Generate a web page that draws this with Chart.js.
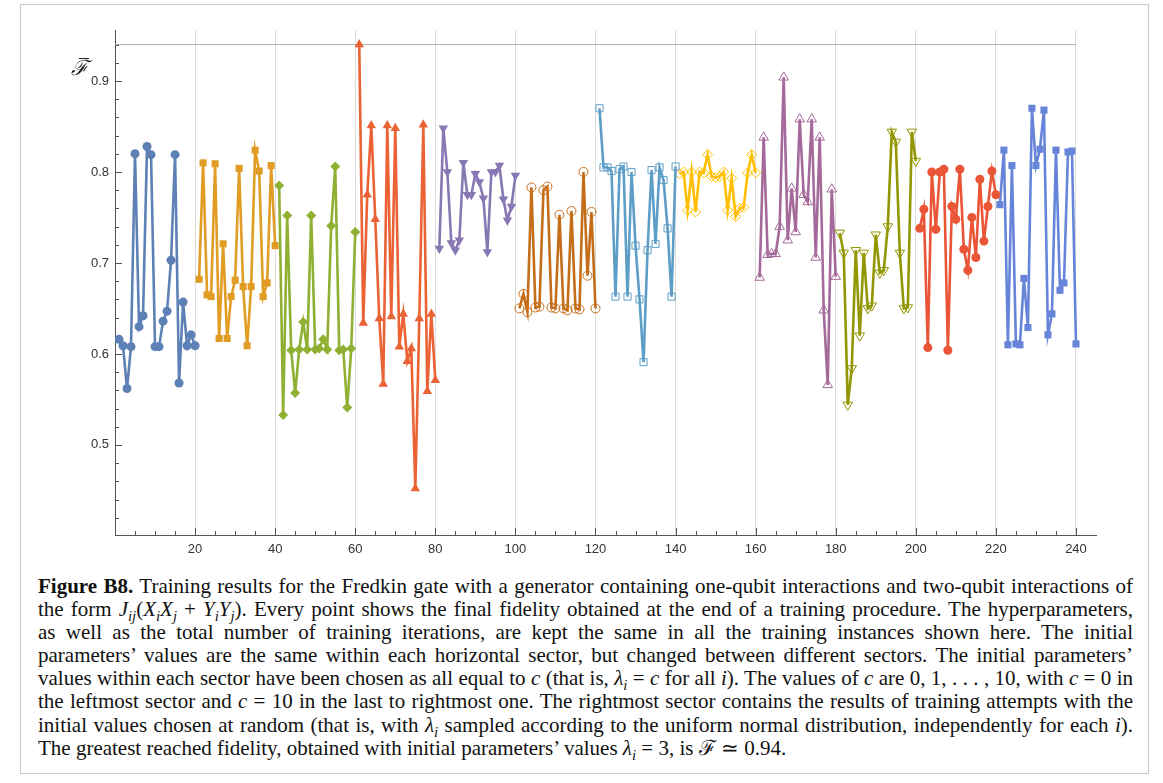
<!DOCTYPE html>
<html>
<head>
<meta charset="utf-8">
<script src="https://cdn.jsdelivr.net/npm/chart.js@4/dist/chart.umd.min.js"></script>
<style>
  html, body { margin: 0; padding: 0; background: #fff; }
  body { width: 1163px; height: 783px; position: relative; overflow: hidden; }
  .frame { position: absolute; left: 20px; top: 4px; width: 1129px; height: 770px; border: 1px solid #c8c8c8; box-sizing: border-box; }
  #chart-wrap { position: absolute; left: 0; top: 0; width: 1163px; height: 570px; }
  .flabel { position: absolute; left: 71px; top: 53px; font: italic 21px 'Liberation Serif', serif; color: #222; }
  .flabel::before { content: ''; position: absolute; left: 8px; top: 5px; width: 10px; border-top: 1.3px solid #222; }
  .caption { position: absolute; left: 38px; top: 575px; width: 1095px; font: 21px/23.1px 'Liberation Serif', serif; color: #111; }
  .caption div { text-align: justify; text-align-last: justify; }
  .caption div.last { text-align-last: left; }
  .caption sub { font-size: 70%; line-height: 0; }
</style>
</head>
<body>
<div class="frame"></div>
<div id="chart-wrap"><canvas id="chart" width="1163" height="570"></canvas></div>
<div class="flabel">ℱ</div>
<div class="caption">
  <div><b>Figure B8.</b> Training results for the Fredkin gate with a generator containing one-qubit interactions and two-qubit interactions of</div>
  <div>the form <i>J<sub>ij</sub></i>(<i>X<sub>i</sub>X<sub>j</sub></i> + <i>Y<sub>i</sub>Y<sub>j</sub></i>). Every point shows the final fidelity obtained at the end of a training procedure. The hyperparameters,</div>
  <div>as well as the total number of training iterations, are kept the same in all the training instances shown here. The initial</div>
  <div>parameters’ values are the same within each horizontal sector, but changed between different sectors. The initial parameters’</div>
  <div>values within each sector have been chosen as all equal to <i>c</i> (that is, <i>λ<sub>i</sub></i> = <i>c</i> for all <i>i</i>). The values of <i>c</i> are 0, 1, . . . , 10, with <i>c</i> = 0 in</div>
  <div>the leftmost sector and <i>c</i> = 10 in the last to rightmost one. The rightmost sector contains the results of training attempts with the</div>
  <div>initial values chosen at random (that is, with <i>λ<sub>i</sub></i> sampled according to the uniform normal distribution, independently for each <i>i</i>).</div>
  <div class="last">The greatest reached fidelity, obtained with initial parameters’ values <i>λ<sub>i</sub></i> = 3, is ℱ ≃ 0.94.</div>
</div>
<script>
// ── Data (one array per sector, 20 training runs each) ───────────────────────
const c0  = [0.616, 0.609, 0.562, 0.608, 0.820, 0.630, 0.642, 0.828, 0.819, 0.608, 0.608, 0.636, 0.647, 0.703, 0.819, 0.568, 0.657, 0.609, 0.621, 0.609];
const c1  = [0.682, 0.810, 0.665, 0.663, 0.809, 0.617, 0.721, 0.617, 0.663, 0.681, 0.804, 0.674, 0.609, 0.674, 0.824, 0.801, 0.663, 0.678, 0.807, 0.719];
const c2  = [0.785, 0.533, 0.752, 0.604, 0.557, 0.605, 0.635, 0.605, 0.752, 0.605, 0.606, 0.616, 0.605, 0.741, 0.806, 0.604, 0.605, 0.541, 0.606, 0.734];
const c3  = [0.940, 0.634, 0.775, 0.851, 0.748, 0.639, 0.567, 0.851, 0.641, 0.848, 0.608, 0.644, 0.592, 0.606, 0.452, 0.639, 0.852, 0.559, 0.644, 0.571];
const c4  = [0.716, 0.848, 0.800, 0.722, 0.714, 0.725, 0.810, 0.775, 0.775, 0.798, 0.789, 0.771, 0.712, 0.800, 0.800, 0.807, 0.770, 0.747, 0.762, 0.796];
const c5  = [0.650, 0.666, 0.646, 0.783, 0.651, 0.652, 0.780, 0.784, 0.651, 0.650, 0.753, 0.650, 0.648, 0.757, 0.650, 0.649, 0.800, 0.686, 0.756, 0.650];
const c6  = [0.870, 0.805, 0.805, 0.801, 0.663, 0.803, 0.806, 0.663, 0.800, 0.719, 0.660, 0.591, 0.714, 0.802, 0.721, 0.805, 0.791, 0.738, 0.663, 0.806];
const c7  = [0.798, 0.800, 0.758, 0.800, 0.756, 0.800, 0.799, 0.819, 0.795, 0.794, 0.795, 0.800, 0.758, 0.793, 0.751, 0.760, 0.761, 0.799, 0.819, 0.799];
const c8  = [0.684, 0.838, 0.709, 0.710, 0.710, 0.740, 0.904, 0.725, 0.782, 0.734, 0.858, 0.775, 0.767, 0.858, 0.706, 0.838, 0.648, 0.566, 0.781, 0.685];
const c9  = [0.733, 0.711, 0.544, 0.584, 0.714, 0.620, 0.711, 0.650, 0.653, 0.731, 0.689, 0.692, 0.740, 0.844, 0.833, 0.711, 0.650, 0.651, 0.844, 0.812];
const c10 = [0.738, 0.759, 0.607, 0.800, 0.737, 0.800, 0.803, 0.604, 0.762, 0.748, 0.803, 0.715, 0.692, 0.750, 0.706, 0.792, 0.724, 0.762, 0.801, 0.775];
const rnd = [0.764, 0.824, 0.610, 0.807, 0.611, 0.610, 0.683, 0.629, 0.870, 0.807, 0.825, 0.868, 0.621, 0.644, 0.824, 0.670, 0.678, 0.822, 0.823, 0.611];

const sectors = [c0, c1, c2, c3, c4, c5, c6, c7, c8, c9, c10, rnd];
const xTicks  = [20, 40, 60, 80, 100, 120, 140, 160, 180, 200, 220, 240];
const yTicks  = [0.5, 0.6, 0.7, 0.8, 0.9];

// ── Styles (Mathematica default palette) ─────────────────────────────────────
const markers = [
  { color: '#5E81B5', style: 'circle',   r: 4.5, open: false },
  { color: '#E19C24', style: 'rect',     r: 5,   open: false },
  { color: '#8FB032', style: 'rectRot',  r: 5,   open: false },
  { color: '#EB6235', style: 'triangle', r: 5.5, open: false },
  { color: '#8778B3', style: 'triangle', r: 5.5, open: false, rot: 180 },
  { color: '#C56E1A', style: 'circle',   r: 4.5, open: true },
  { color: '#5D9EC7', style: 'rect',     r: 5,   open: true },
  { color: '#FFBF00', style: 'rectRot',  r: 5,   open: true },
  { color: '#A5699A', style: 'triangle', r: 5.5, open: true },
  { color: '#929600', style: 'triangle', r: 5.5, open: true, rot: 180 },
  { color: '#E95536', style: 'circle',   r: 4.5, open: false },
  { color: '#6685D9', style: 'rect',     r: 5,   open: false },
];

const maxF = Math.max(...sectors.flat());

const datasets = sectors.map((vals, k) => {
  const m = markers[k];
  return {
    data: vals.map((v, i) => ({ x: k * 20 + i + 1, y: v })),
    showLine: true,
    borderColor: m.color,
    borderWidth: 2.6,
    pointStyle: m.style,
    pointRadius: m.r,
    pointRotation: m.rot || 0,
    pointBackgroundColor: m.open ? 'rgba(255,255,255,0)' : m.color,
    pointBorderColor: m.color,
    pointBorderWidth: m.open ? 1 : 0,
    order: 1,
  };
});

datasets.push({
  data: [{ x: 0, y: maxF }, { x: 240, y: maxF }],
  showLine: true,
  borderColor: '#b0b0b0',
  borderWidth: 1,
  pointRadius: 0,
  order: 2,
});

// ── Inward tick marks, Mathematica style ─────────────────────────────────────
const tickMarks = {
  id: 'tickMarks',
  beforeDatasetsDraw(chart) {
    const { ctx, scales: { x, y }, chartArea: a } = chart;
    ctx.save();
    ctx.strokeStyle = '#555';
    ctx.lineWidth = 1;
    ctx.beginPath();
    for (let v = 42; v <= 94; v += 2) {
      const py = Math.round(y.getPixelForValue(v / 100)) + 0.5;
      const len = v % 10 === 0 ? 7 : 4;
      ctx.moveTo(a.left, py);
      ctx.lineTo(a.left + len, py);
    }
    for (let v = 5; v <= 240; v += 5) {
      const px = Math.round(x.getPixelForValue(v)) + 0.5;
      const len = v % 20 === 0 ? 7 : 4;
      ctx.moveTo(px, a.bottom);
      ctx.lineTo(px, a.bottom - len);
    }
    ctx.stroke();
    ctx.restore();
  },
};

new Chart(document.getElementById('chart'), {
  type: 'scatter',
  data: { datasets },
  plugins: [tickMarks],
  options: {
    responsive: false,
    animation: false,
    layout: { padding: { top: 30, right: 67, left: 0, bottom: 0 } },
    plugins: { legend: { display: false }, tooltip: { enabled: false } },
    scales: {
      x: {
        type: 'linear',
        min: 0,
        max: 245,
        afterFit: (s) => { s.height = 35; },
        afterBuildTicks: (s) => { s.ticks = xTicks.map((value) => ({ value })); },
        border: { display: true, color: '#555', width: 1 },
        grid: { drawTicks: false, color: '#dcdcdc', lineWidth: 1 },
        ticks: {
          padding: 7,
          color: '#333',
          font: { family: 'Liberation Sans', size: 13 },
          callback: (v) => String(v),
        },
      },
      y: {
        type: 'linear',
        min: 0.401,
        max: 0.956,
        afterFit: (s) => { s.width = 115; },
        afterBuildTicks: (s) => { s.ticks = yTicks.map((value) => ({ value })); },
        border: { display: true, color: '#555', width: 1 },
        grid: { display: false, drawTicks: false },
        ticks: {
          padding: 6,
          color: '#333',
          font: { family: 'Liberation Sans', size: 13 },
          callback: (v) => v.toFixed(1),
        },
      },
    },
  },
});
</script>
</body>
</html>
